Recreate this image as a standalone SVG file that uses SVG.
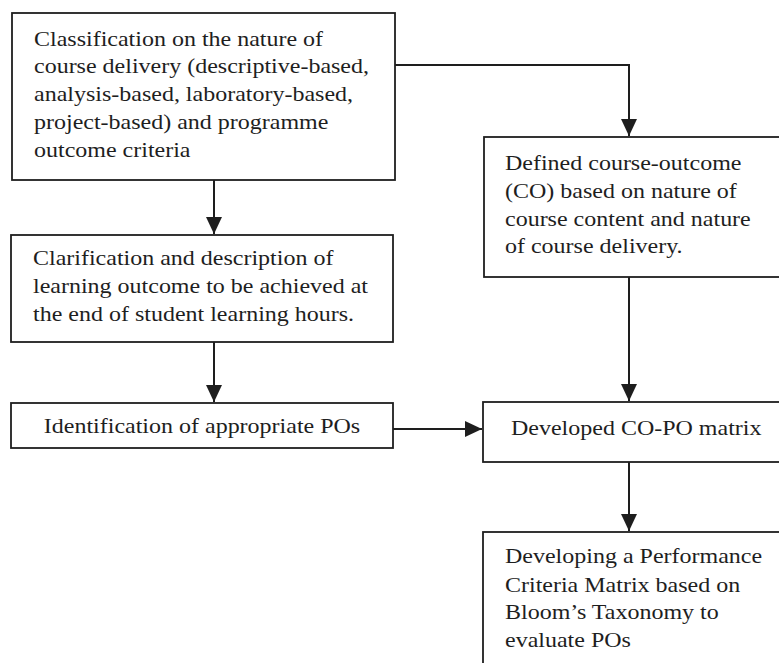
<svg xmlns="http://www.w3.org/2000/svg" width="779" height="663" viewBox="0 0 779 663">
<style>
.box{fill:#fff;stroke:#1e1e1e;stroke-width:1.8}
.t{font-family:"Liberation Serif","Times New Roman",serif;font-size:20px;fill:#1e1e1e}
.c{fill:none;stroke:#1e1e1e;stroke-width:2}
</style>
<defs>
<marker id="ah" markerUnits="userSpaceOnUse" markerWidth="18" markerHeight="16" viewBox="0 0 18 16" refX="17" refY="8" orient="auto">
<path d="M0,0 L17,8 L0,16 Z" fill="#1e1e1e"/>
</marker>
</defs>
<rect width="779" height="663" fill="#fff"/>
<g id="connectors">
<polyline class="c" points="395,65 629,65 629,136" marker-end="url(#ah)"/>
<line class="c" x1="214" y1="180" x2="214" y2="234" marker-end="url(#ah)"/>
<line class="c" x1="214" y1="342" x2="214" y2="402" marker-end="url(#ah)"/>
<line class="c" x1="393" y1="429" x2="482" y2="429" stroke-width="3" marker-end="url(#ah)"/>
<line class="c" x1="629" y1="277" x2="629" y2="401" marker-end="url(#ah)"/>
<line class="c" x1="629" y1="462" x2="629" y2="531" marker-end="url(#ah)"/>
</g>
<g id="classification">
<rect class="box" x="12" y="13" width="383" height="167"/>
<text class="t" transform="translate(34 0) scale(1.2 1)">
<tspan x="0" y="46">Classification on the nature of</tspan>
<tspan x="0" y="73">course delivery (descriptive-based,</tspan>
<tspan x="0" y="101">analysis-based, laboratory-based,</tspan>
<tspan x="0" y="129">project-based) and programme</tspan>
<tspan x="0" y="157">outcome criteria</tspan>
</text>
</g>
<g id="clarification">
<rect class="box" x="11" y="235" width="382" height="107"/>
<text class="t" transform="translate(33 0) scale(1.2 1)">
<tspan x="0" y="265">Clarification and description of</tspan>
<tspan x="0" y="293">learning outcome to be achieved at</tspan>
<tspan x="0" y="321">the end of student learning hours.</tspan>
</text>
</g>
<g id="identification">
<rect class="box" x="11" y="403" width="382" height="45"/>
<text class="t" transform="translate(202 0) scale(1.2 1)" text-anchor="middle">
<tspan x="0" y="433">Identification of appropriate POs</tspan>
</text>
</g>
<g id="defined">
<rect class="box" x="484" y="137" width="310" height="140"/>
<text class="t" transform="translate(505 0) scale(1.2 1)">
<tspan x="0" y="170">Defined course-outcome</tspan>
<tspan x="0" y="198">(CO) based on nature of</tspan>
<tspan x="0" y="226">course content and nature</tspan>
<tspan x="0" y="253">of course delivery.</tspan>
</text>
</g>
<g id="copo">
<rect class="box" x="483" y="402" width="310" height="60"/>
<text class="t" transform="translate(511 0) scale(1.2 1)">
<tspan x="0" y="435">Developed CO-PO matrix</tspan>
</text>
</g>
<g id="developing">
<rect class="box" x="483" y="532" width="310" height="140"/>
<text class="t" transform="translate(505 0) scale(1.2 1)">
<tspan x="0" y="563">Developing a Performance</tspan>
<tspan x="0" y="592">Criteria Matrix based on</tspan>
<tspan x="0" y="619">Bloom’s Taxonomy to</tspan>
<tspan x="0" y="647">evaluate POs</tspan>
</text>
</g>
</svg>
